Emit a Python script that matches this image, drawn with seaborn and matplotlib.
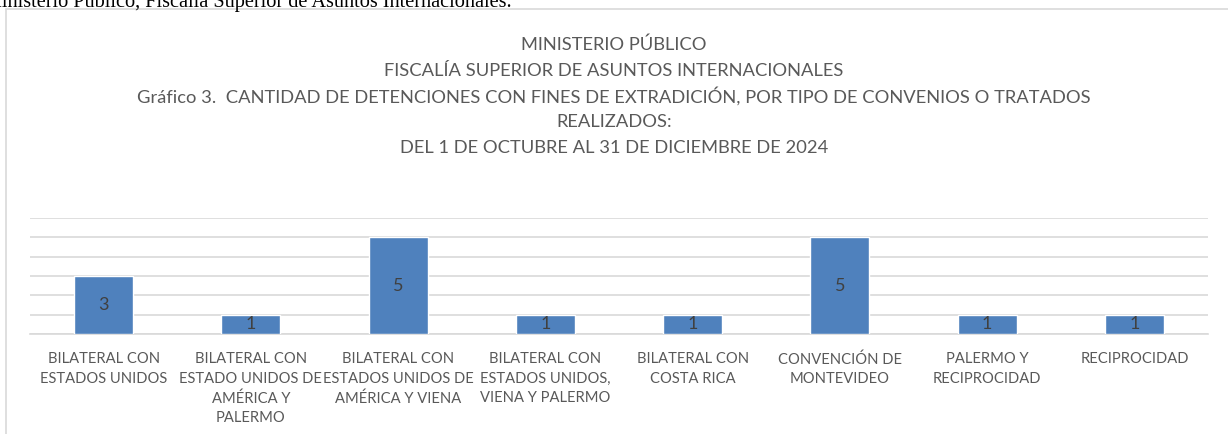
import matplotlib
matplotlib.use("Agg")
import matplotlib.pyplot as plt
import matplotlib.patches as mpatches
import seaborn as sns
import pandas as pd

# ── Data ──────────────────────────────────────────────────────────────────────
CATEGORIES = [
    "BILATERAL CON\nESTADOS UNIDOS",
    "BILATERAL CON\nESTADO UNIDOS DE\nAMÉRICA Y\nPALERMO",
    "BILATERAL CON\nESTADOS UNIDOS DE\nAMÉRICA Y VIENA",
    "BILATERAL CON\nESTADOS UNIDOS,\nVIENA Y PALERMO",
    "BILATERAL CON\nCOSTA RICA",
    "CONVENCIÓN DE\nMONTEVIDEO",
    "PALERMO Y\nRECIPROCIDAD",
    "RECIPROCIDAD",
]
DETENCIONES = [3, 1, 5, 1, 1, 5, 1, 1]

TITLE_LINES = [
    "MINISTERIO PÚBLICO",
    "FISCALÍA SUPERIOR DE ASUNTOS INTERNACIONALES",
    "Gráfico 3.  CANTIDAD DE DETENCIONES CON FINES DE EXTRADICIÓN, POR TIPO DE CONVENIOS O TRATADOS",
    "REALIZADOS:",
    "DEL 1 DE OCTUBRE AL 31 DE DICIEMBRE DE 2024",
]
HEADER = "Ministerio Público, Fiscalía Superior de Asuntos Internacionales."

# ── Style ─────────────────────────────────────────────────────────────────────
sns.set_style("white")
plt.rcParams["font.family"] = ["Lato", "DejaVu Sans"]
BAR_COLOR = "#4F81BD"
TEXT_COLOR = "#595959"
GRID_COLOR = "#D9D9D9"

W, H = 1228, 434
fig = plt.figure(figsize=(W / 100, H / 100), dpi=100)

# chart frame (Excel chart area border)
fig.patches.append(mpatches.Rectangle((6 / W, -0.1), 2.0, 1.1 - 9 / H,
                                      transform=fig.transFigure, fill=False,
                                      edgecolor=GRID_COLOR, linewidth=1.2))

# document text above the chart, cropped at the page edge like the source
fig.text(512 / W, 1 - 7 / H, HEADER, ha="right", va="baseline",
         family="Liberation Serif", fontsize=14.6, color="#000000")

ax = fig.add_axes([30 / W, 100 / H, 1178 / W, 116 / H])
df = pd.DataFrame({"cat": CATEGORIES, "val": DETENCIONES})
sns.barplot(data=df, x="cat", y="val", color=BAR_COLOR, width=0.4,
            saturation=1, ax=ax, zorder=3)

ax.set_ylim(0, 6)
ax.set_xlim(-0.5, len(CATEGORIES) - 0.5)
ax.set_yticks(range(0, 7))
ax.set_yticklabels([])
ax.tick_params(axis="y", length=0)
ax.tick_params(axis="x", length=0, pad=13, labelsize=10.6, labelcolor=TEXT_COLOR)
for lbl in ax.get_xticklabels():
    lbl.set_linespacing(1.5)
ax.grid(axis="y", color=GRID_COLOR, linewidth=1.2, zorder=0)
ax.set_xlabel("")
ax.set_ylabel("")
for s in ["top", "right", "left"]:
    ax.spines[s].set_visible(False)
ax.spines["bottom"].set_color(GRID_COLOR)
ax.spines["bottom"].set_linewidth(1.2)

for i, v in enumerate(DETENCIONES):
    ax.text(i, v / 2, str(v), ha="center", va="center",
            fontsize=13, color="#404040", zorder=4)

# title block
for k, line in enumerate(TITLE_LINES):
    fig.text(0.5, 1 - (45 + 25.8 * k) / H, line, ha="center", va="center",
             fontsize=13.2, color=TEXT_COLOR)

fig.savefig("out.png", dpi=100)
